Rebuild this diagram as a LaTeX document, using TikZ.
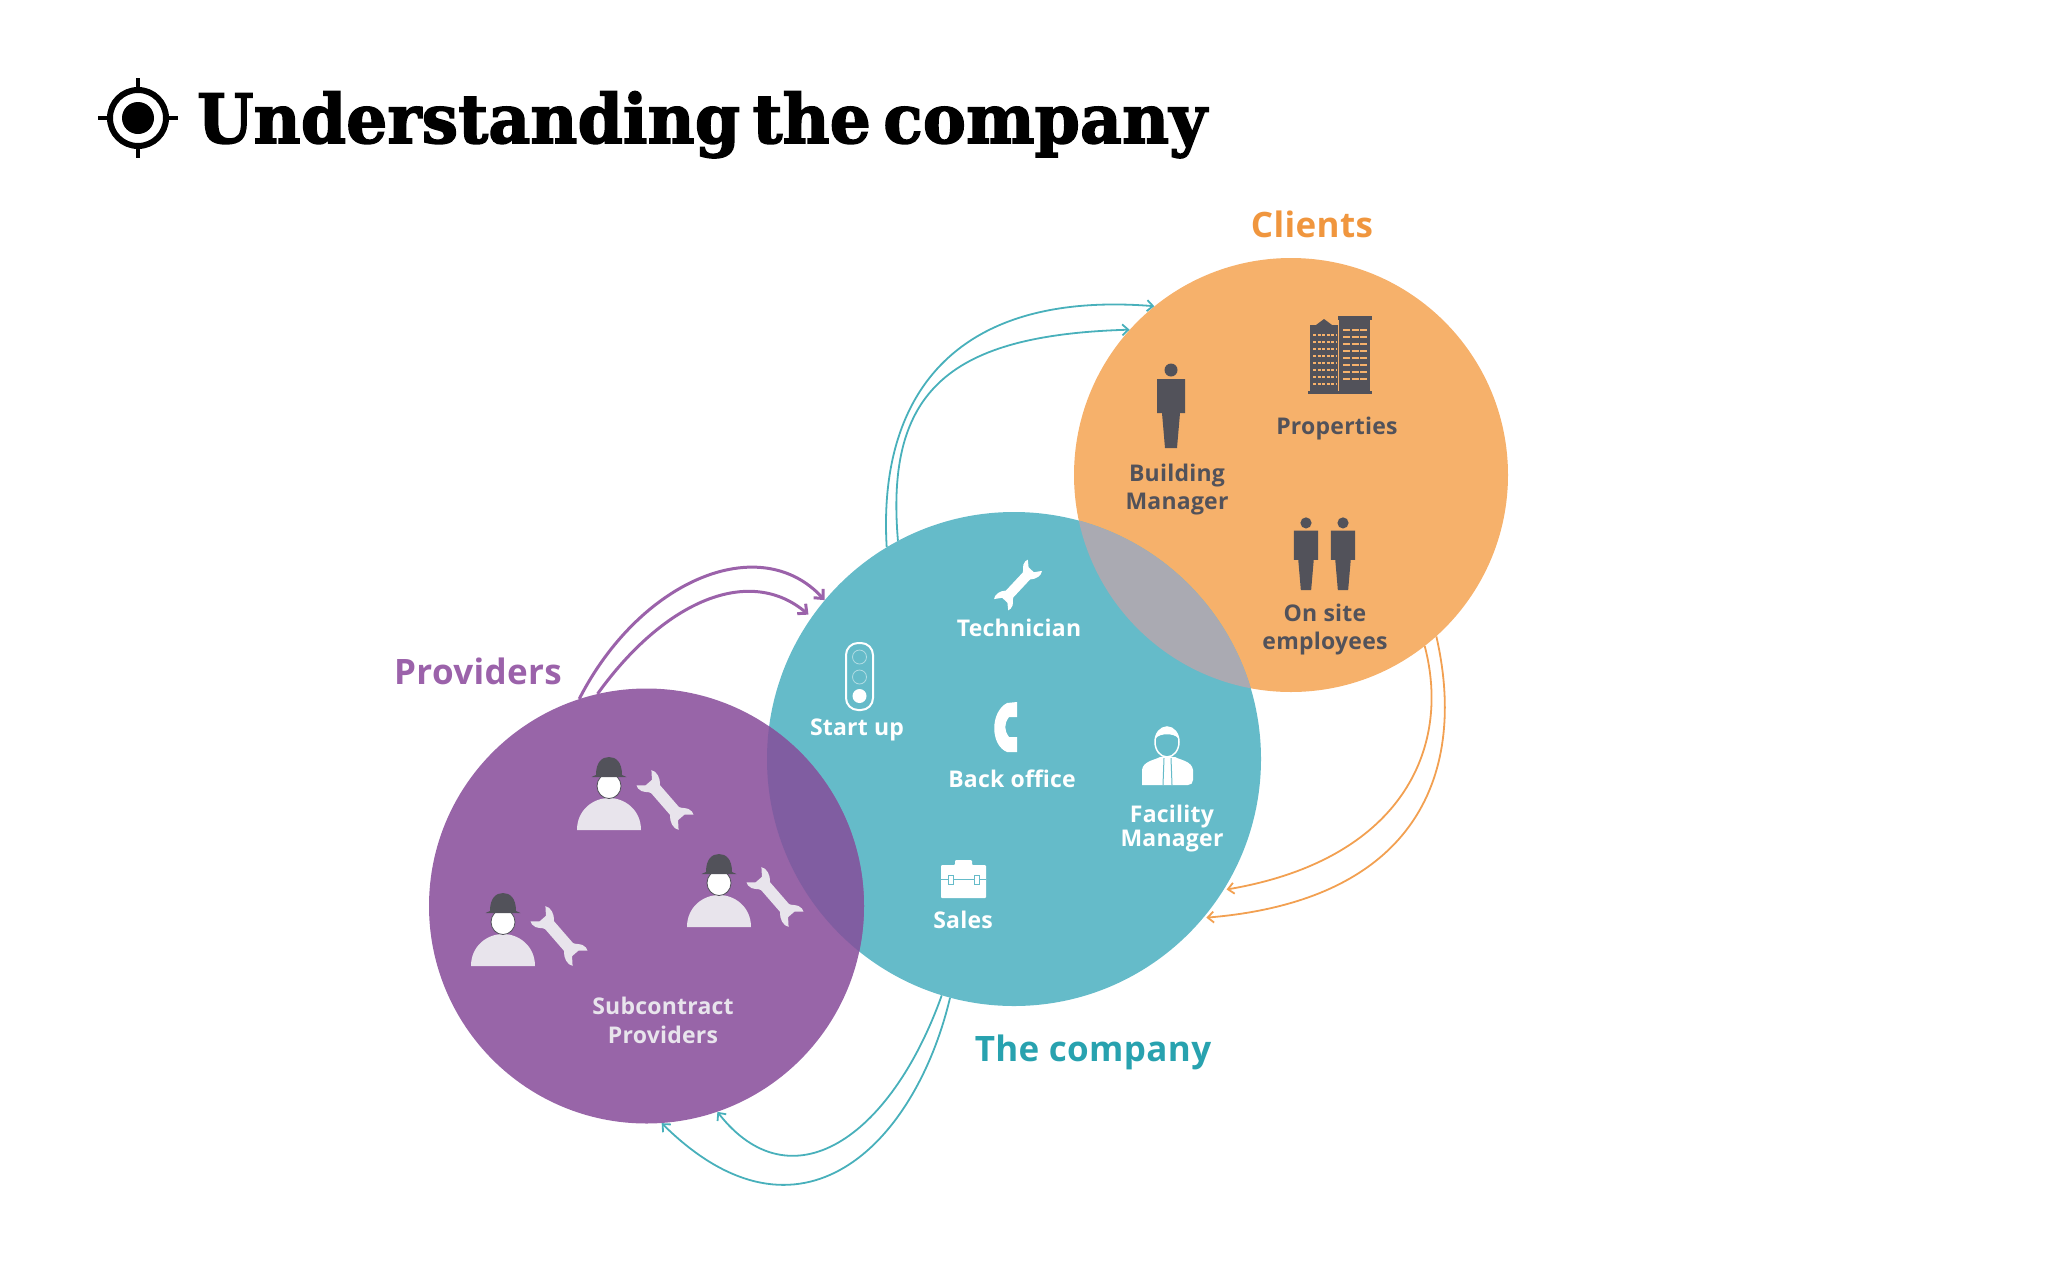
\documentclass[tikz,border=0pt]{standalone}
\usepackage{fontspec}
\usepackage{xcolor}
\setmainfont[LetterSpace=1]{Open Sans}
\newfontfamily\titlefont[FakeStretch=0.95,WordSpace=0.55,LetterSpace=0.3,BoldFeatures={FakeBold=2.2}]{DejaVu Serif}
\usetikzlibrary{arrows.meta}
\definecolor{clientorange}{RGB}{246,177,107}
\definecolor{clienttext}{RGB}{240,150,62}
\definecolor{companyteal}{RGB}{101,187,201}
\definecolor{companytext}{RGB}{40,162,175}
\definecolor{providerpurple}{RGB}{152,101,168}
\definecolor{providertext}{RGB}{155,98,170}
\definecolor{greyoverlap}{RGB}{170,170,178}
\definecolor{purpleoverlap}{RGB}{128,93,161}
\definecolor{icondark}{RGB}{82,82,90}
\definecolor{iconlight}{RGB}{232,228,236}
\tikzstyle{venn}=[
  circle,inner sep=0pt,draw=none
]
\tikzstyle{heading}=[
  font=\bfseries\fontsize{35}{40}\selectfont,inner sep=0pt
]
\tikzstyle{item}=[
  font=\bfseries\fontsize{23}{28}\selectfont,align=center,inner sep=0pt
]
\tikzstyle{tealarrow}=[
  -{Straight Barb[length=6pt,width=11pt]},line width=1.8pt,draw=companytext!85
]
\tikzstyle{orangearrow}=[
  -{Straight Barb[length=6pt,width=11pt]},line width=1.8pt,draw=clienttext!90,shorten >=3pt
]
\tikzstyle{purplearrow}=[
  -{Straight Barb[length=7pt,width=13pt]},line width=3pt,draw=providertext
]
\newcommand{\standman}[3]{
  \begin{scope}[shift={(#1,#2)},scale=#3]
    \fill [icondark] (0,-78) circle (6.5pt);
    \fill [icondark] (-14,-69) -- (14,-69) -- (14,-35) -- (9,-35) -- (6,0) -- (-6,0) -- (-9,-35) -- (-14,-35) -- cycle;
  \end{scope}
}
\newcommand{\wrenchicon}[5]{
  \fill [#5,shift={(#1,#2)},rotate=#3,scale=#4] (-17,-7) -- (17,-7) .. controls (21,-8) and (23,-15) .. (31,-15) -- (35,-14) -- (28,-6) -- (28,4) -- (37,11) .. controls (32,15) and (23,13) .. (17,7) -- (-17,7) .. controls (-21,8) and (-23,15) .. (-31,15) -- (-35,14) -- (-28,6) -- (-28,-4) -- (-37,-11) .. controls (-32,-15) and (-23,-13) .. (-17,-7) -- cycle;
}
\newcommand{\workericon}[2]{
  \begin{scope}[shift={(#1,#2)}]
    \fill [iconlight] (-32,0) .. controls (-32,-20) and (-16,-32) .. (0,-32) .. controls (16,-32) and (32,-20) .. (32,0) -- cycle;
    \fill [white,draw=icondark,line width=0.8pt] (0,-44) ellipse (12pt and 12.5pt);
    \fill [icondark] (-13,-55) .. controls (-13,-68) and (-7,-73) .. (0,-73) .. controls (7,-73) and (13,-68) .. (13,-55) -- (17.5,-53) -- (-17.5,-53) -- cycle;
    \wrenchicon{56}{-30}{-49}{0.85}{iconlight}
  \end{scope}
}
\begin{document}
\begin{tikzpicture}[x=1pt,y=-1pt]
    \useasboundingbox (0,0) rectangle (2048,1280);
    % circles
    \node (clients) at (1291,475) [venn,fill=clientorange,minimum size=434pt] {};
    \node (company) at (1014,759) [venn,fill=companyteal,minimum size=494pt] {};
    \node (providers) at (646.5,906) [venn,fill=providerpurple,minimum size=435pt] {};
    \begin{scope}
      \clip (1014,759) circle (247pt);
      \fill [greyoverlap] (1291,475) circle (217pt);
      \fill [purpleoverlap] (646.5,906) circle (217.5pt);
    \end{scope}
    % arrows
    \draw [purplearrow] (providers.108) .. controls (640,580) and (760,530) .. (company.140);
    \draw [purplearrow,shorten >=4pt] (providers.103) .. controls (665,600) and (750,565) .. (company.145);
    \draw [tealarrow] (company.121) .. controls (878,400) and (950,290) .. (clients.129);
    \draw [tealarrow] (company.118) .. controls (885,390) and (950,335) .. (clients.138);
    \draw [orangearrow] (clients.-52) .. controls (1452,750) and (1400,860) .. (company.-32);
    \draw [orangearrow] (clients.-48) .. controls (1467,770) and (1420,900) .. (company.-40.5);
    \draw [tealarrow] (company.-107) .. controls (890,1140) and (790,1205) .. (providers.-71);
    \draw [tealarrow] (company.-105) .. controls (915,1145) and (800,1260) .. (providers.-86);
    % title
    \fill [black] (138,118) circle (16pt);
    \draw [black,line width=6pt] (138,118) circle (28pt);
    \draw [black,line width=4pt] (138,78) -- (138,90) (138,146) -- (138,158) (98,118) -- (110,118) (166,118) -- (178,118);
    \node (title) at (197,143) [anchor=base west,inner sep=0pt,font=\titlefont\bfseries\fontsize{68}{72}\selectfont] {Understanding the company};
    % headings
    \node (clientshead) at (1312,224) [heading,text=clienttext] {Clients};
    \node (providershead) at (478,671) [heading,text=providertext] {Providers};
    \node (companyhead) at (1093,1052) [heading,text=companytext] {The company};
    % client side
    \standman{1171}{448}{1}
    \standman{1306}{590}{0.86}
    \standman{1343}{590}{0.86}
    \fill [icondark] (1310,325) rectangle (1338,393);
    \fill [icondark] (1316,325) -- (1324,319) -- (1332,325) -- cycle;
    \fill [icondark] (1339,318) rectangle (1370,393);
    \fill [icondark] (1338,316) rectangle (1372,320);
    \fill [icondark] (1308,391) rectangle (1372,394);
    \foreach \wy in {335,342,349,356,363,370,377,384} {
      \draw [clientorange,line width=2.5pt,dash pattern=on 3pt off 1.5pt] (1313,\wy) -- (1336,\wy);
      \draw [clientorange,line width=2.5pt,dash pattern=on 7pt off 1.5pt] (1343,\wy-5) -- (1367,\wy-5);
    }
    \node (properties) at (1337,429) [item,text=icondark] {Properties};
    \node (bmanager) at (1177,490) [item,text=icondark] {Building\\Manager};
    \node (onsite) at (1325,630) [item,text=icondark] {On site\\employees};
    % company side
    \wrenchicon{1018}{585}{47}{0.72}{white}
    \node (technician) at (1019,628) [item,text=white] {Technician};
    \draw [white,line width=2pt,rounded corners=12pt] (846,643) rectangle (873,710);
    \draw [white!50!companyteal,line width=0.8pt] (859.5,657) circle (7pt) (859.5,677) circle (7pt);
    \fill [white] (859.5,696) circle (7pt);
    \node (startup) at (857,730) [item,text=white] {Start up};
    \fill [white] (1017,702) -- (1017,717) -- (1009,717) .. controls (1004,724) and (1004,730) .. (1009,737) -- (1017,737) -- (1017,752) -- (1007,752) .. controls (990,745) and (990,712) .. (1007,703) -- cycle;
    \node (backoffice) at (1012,779) [item,text=white] {Back office};
    \fill [white] (1142,785) -- (1142,770) .. controls (1143,761) and (1155,760) .. (1160,757) -- (1175,757) .. controls (1180,760) and (1192,761) .. (1193,770) -- (1193,780) .. controls (1193,783) and (1191,785) .. (1188,785) -- cycle;
    \draw [companyteal,line width=1pt] (1164,758) -- (1163,785) (1171,758) -- (1172,785);
    \draw [white,fill=companyteal,line width=1.5pt] (1167,742) ellipse (12pt and 15pt);
    \fill [white] (1156,738) .. controls (1155,724) and (1179,724) .. (1178,738) .. controls (1174,733) and (1160,733) .. (1156,738) -- cycle;
    \node (fmanager) at (1172,829) [item,text=white,font=\bfseries\fontsize{23}{24}\selectfont] {Facility\\Manager};
    \fill [white,rounded corners=1pt] (955,865) -- (955,860) -- (972,860) -- (972,865) -- (986,865) -- (986,898) -- (941,898) -- (941,865) -- cycle;
    \draw [companyteal,line width=1pt] (941,879) -- (986,879);
    \draw [companyteal,line width=1pt,fill=white] (948,875) rectangle (953,884) (974,875) rectangle (979,884);
    \node (sales) at (963,920) [item,text=white] {Sales};
    % provider side
    \workericon{609}{830}
    \workericon{719}{927}
    \workericon{503}{966}
    \node (subcontract) at (663,1020) [item,text=iconlight,font=\bfseries\fontsize{23}{29}\selectfont] {Subcontract\\Providers};
\end{tikzpicture}
\end{document}
